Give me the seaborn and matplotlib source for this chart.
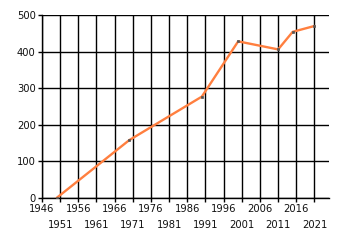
import matplotlib
matplotlib.use("Agg")
import matplotlib.pyplot as plt
import seaborn as sns
import pandas as pd

years = [1950, 1970, 1990, 2000, 2011, 2015, 2021]
values = [0, 158, 277, 428, 406, 454, 470]
xticks_top = list(range(1946, 2022, 10))
xticks_bottom = list(range(1951, 2022, 10))
yticks = [0, 100, 200, 300, 400, 500]

sns.set_style("white")
plt.rcParams['font.family'] = ['DejaVu Sans']

df = pd.DataFrame({"year": years, "value": values})

fig = plt.figure(figsize=(3.4, 2.45), dpi=100)
ax = fig.add_axes([42/340, 1 - 198/245, (329-42)/340, (198-15)/245])

sns.lineplot(data=df, x="year", y="value", ax=ax, color="#FF7F3F", linewidth=1.7,
             marker="s", markersize=1.6, markerfacecolor="#555555", markeredgecolor="#555555",
             markeredgewidth=0.5, zorder=3)

ax.set_xlim(1946, 2025)
ax.set_ylim(0, 500)
ax.set_xticks(xticks_top)
ax.set_xticks(xticks_bottom, minor=True)
ax.set_yticks(yticks)
ax.set_xticklabels([str(t) for t in xticks_top], fontsize=7.2, color="#111111")
ax.set_xticklabels([str(t) for t in xticks_bottom], minor=True, fontsize=7.2, color="#111111")
ax.set_yticklabels([str(v) for v in yticks], fontsize=7.2, color="#111111")
ax.grid(True, which="both", color="black", linewidth=1.0)
ax.set_xlabel("")
ax.set_ylabel("")
for s in ["top", "right"]:
    ax.spines[s].set_visible(False)
for s in ["left", "bottom"]:
    ax.spines[s].set_color("black")
    ax.spines[s].set_linewidth(1.0)
ax.tick_params(axis="both", which="both", length=3, width=1, color="black", direction="out",
               bottom=True, left=True)
ax.tick_params(axis="x", which="major", pad=1.5)
ax.tick_params(axis="x", which="minor", pad=13)
ax.tick_params(axis="y", pad=1.5)

fig.savefig("out.png", dpi=100)
